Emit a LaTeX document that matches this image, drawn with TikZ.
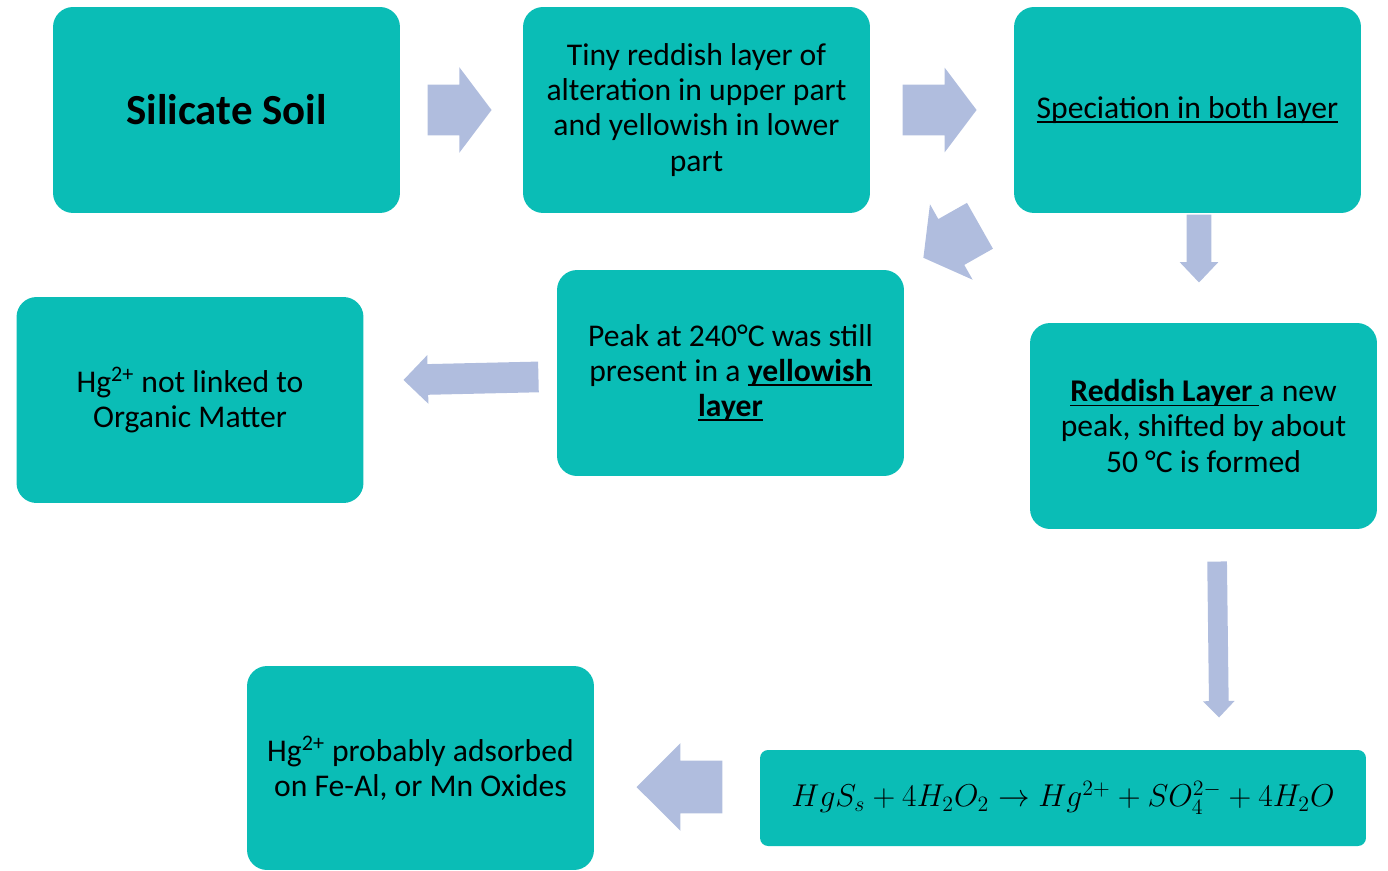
\documentclass[tikz,border=0pt]{standalone}
\usepackage{fontspec}
\setmainfont{Carlito}
\usepackage{graphicx}
\usepackage{xcolor}
\usepackage{tikz}
\usetikzlibrary{shapes.arrows}
\definecolor{boxteal}{RGB}{10,189,182}
\definecolor{arrowblue}{RGB}{176,189,222}
\newcommand{\undl}[1]{\setbox0\hbox{#1}\rlap{\rule[-2.6pt]{\wd0}{1pt}}\box0}

\begin{document}
\begin{tikzpicture}[x=0.02cm,y=-0.02cm,
  stage/.style={rectangle,rounded corners=0.4cm,fill=boxteal,minimum width=6.94cm,minimum height=4.12cm,align=center,inner sep=2pt,font=\fontsize{18}{20}\selectfont},
  flow/.style={single arrow,fill=arrowblue,draw=none,inner xsep=0pt,anchor=tip}]
  \useasboundingbox (0,0) rectangle (1388,871);
  \node[stage] (soil) at (226.5,110) {\fontsize{24.4}{28}\selectfont\bfseries Silicate Soil};
  \node[stage] (tiny) at (696.5,110) {Tiny reddish layer of\\alteration in upper part\\and yellowish in lower\\part};
  \node[stage] (spec) at (1187.5,110) {\undl{Speciation in both layer}};
  \node[stage] (peak) at (730.5,373) {Peak at 240°C was still\\present in a \textbf{\undl{yellowish}}\\\textbf{\undl{layer}}};
  \node[stage] (nolink) at (190,400) {Hg\textsuperscript{2+} not linked to\\Organic Matter};
  \node[stage] (red) at (1203.5,426) {\textbf{\undl{Reddish Layer }}a new\\peak, shifted by about\\50 °C is formed};
  \node[stage,rounded corners=0.16cm,minimum width=12.12cm,minimum height=1.92cm,inner sep=0pt,font=\fontsize{17.28}{22}\selectfont] (eq) at (1063,798) {\scalebox{1.04}{$HgS_s+4H_2O_2\rightarrow Hg^{2+}+SO_4^{2-}+4H_2O$}};
  \node[stage,minimum height=4.08cm] (ads) at (420.5,768) {Hg\textsuperscript{2+} probably adsorbed\\on Fe-Al, or Mn Oxides};
  \node[flow,minimum height=1.28cm,inner ysep=0.5cm,single arrow head extend=0.35cm,single arrow tip angle=106] (s1) at (492,110) {};
  \node[flow,minimum height=1.48cm,inner ysep=0.5cm,single arrow head extend=0.34cm,single arrow tip angle=106] (s2) at (977,110) {};
  \node[flow,minimum height=1.3cm,inner ysep=0.52cm,single arrow head extend=0.34cm,single arrow tip angle=107,rotate=209.5] (s3) at (923,258) {};
  \node[flow,minimum height=1.36cm,inner ysep=0.24cm,single arrow head extend=0.14cm,single arrow tip angle=87,rotate=-90] (s4) at (1199,283) {};
  \node[flow,minimum height=2.7cm,inner ysep=0.3cm,single arrow head extend=0.18cm,single arrow tip angle=90,rotate=181.3] (s5) at (403,380) {};
  \node[flow,minimum height=3.12cm,inner ysep=0.19cm,single arrow head extend=0.12cm,single arrow tip angle=88,rotate=-89.3] (s6) at (1219,718) {};
  \node[flow,minimum height=1.72cm,inner ysep=0.52cm,single arrow head extend=0.35cm,single arrow tip angle=90,rotate=180] (s7) at (636,787) {};
\end{tikzpicture}
\end{document}
